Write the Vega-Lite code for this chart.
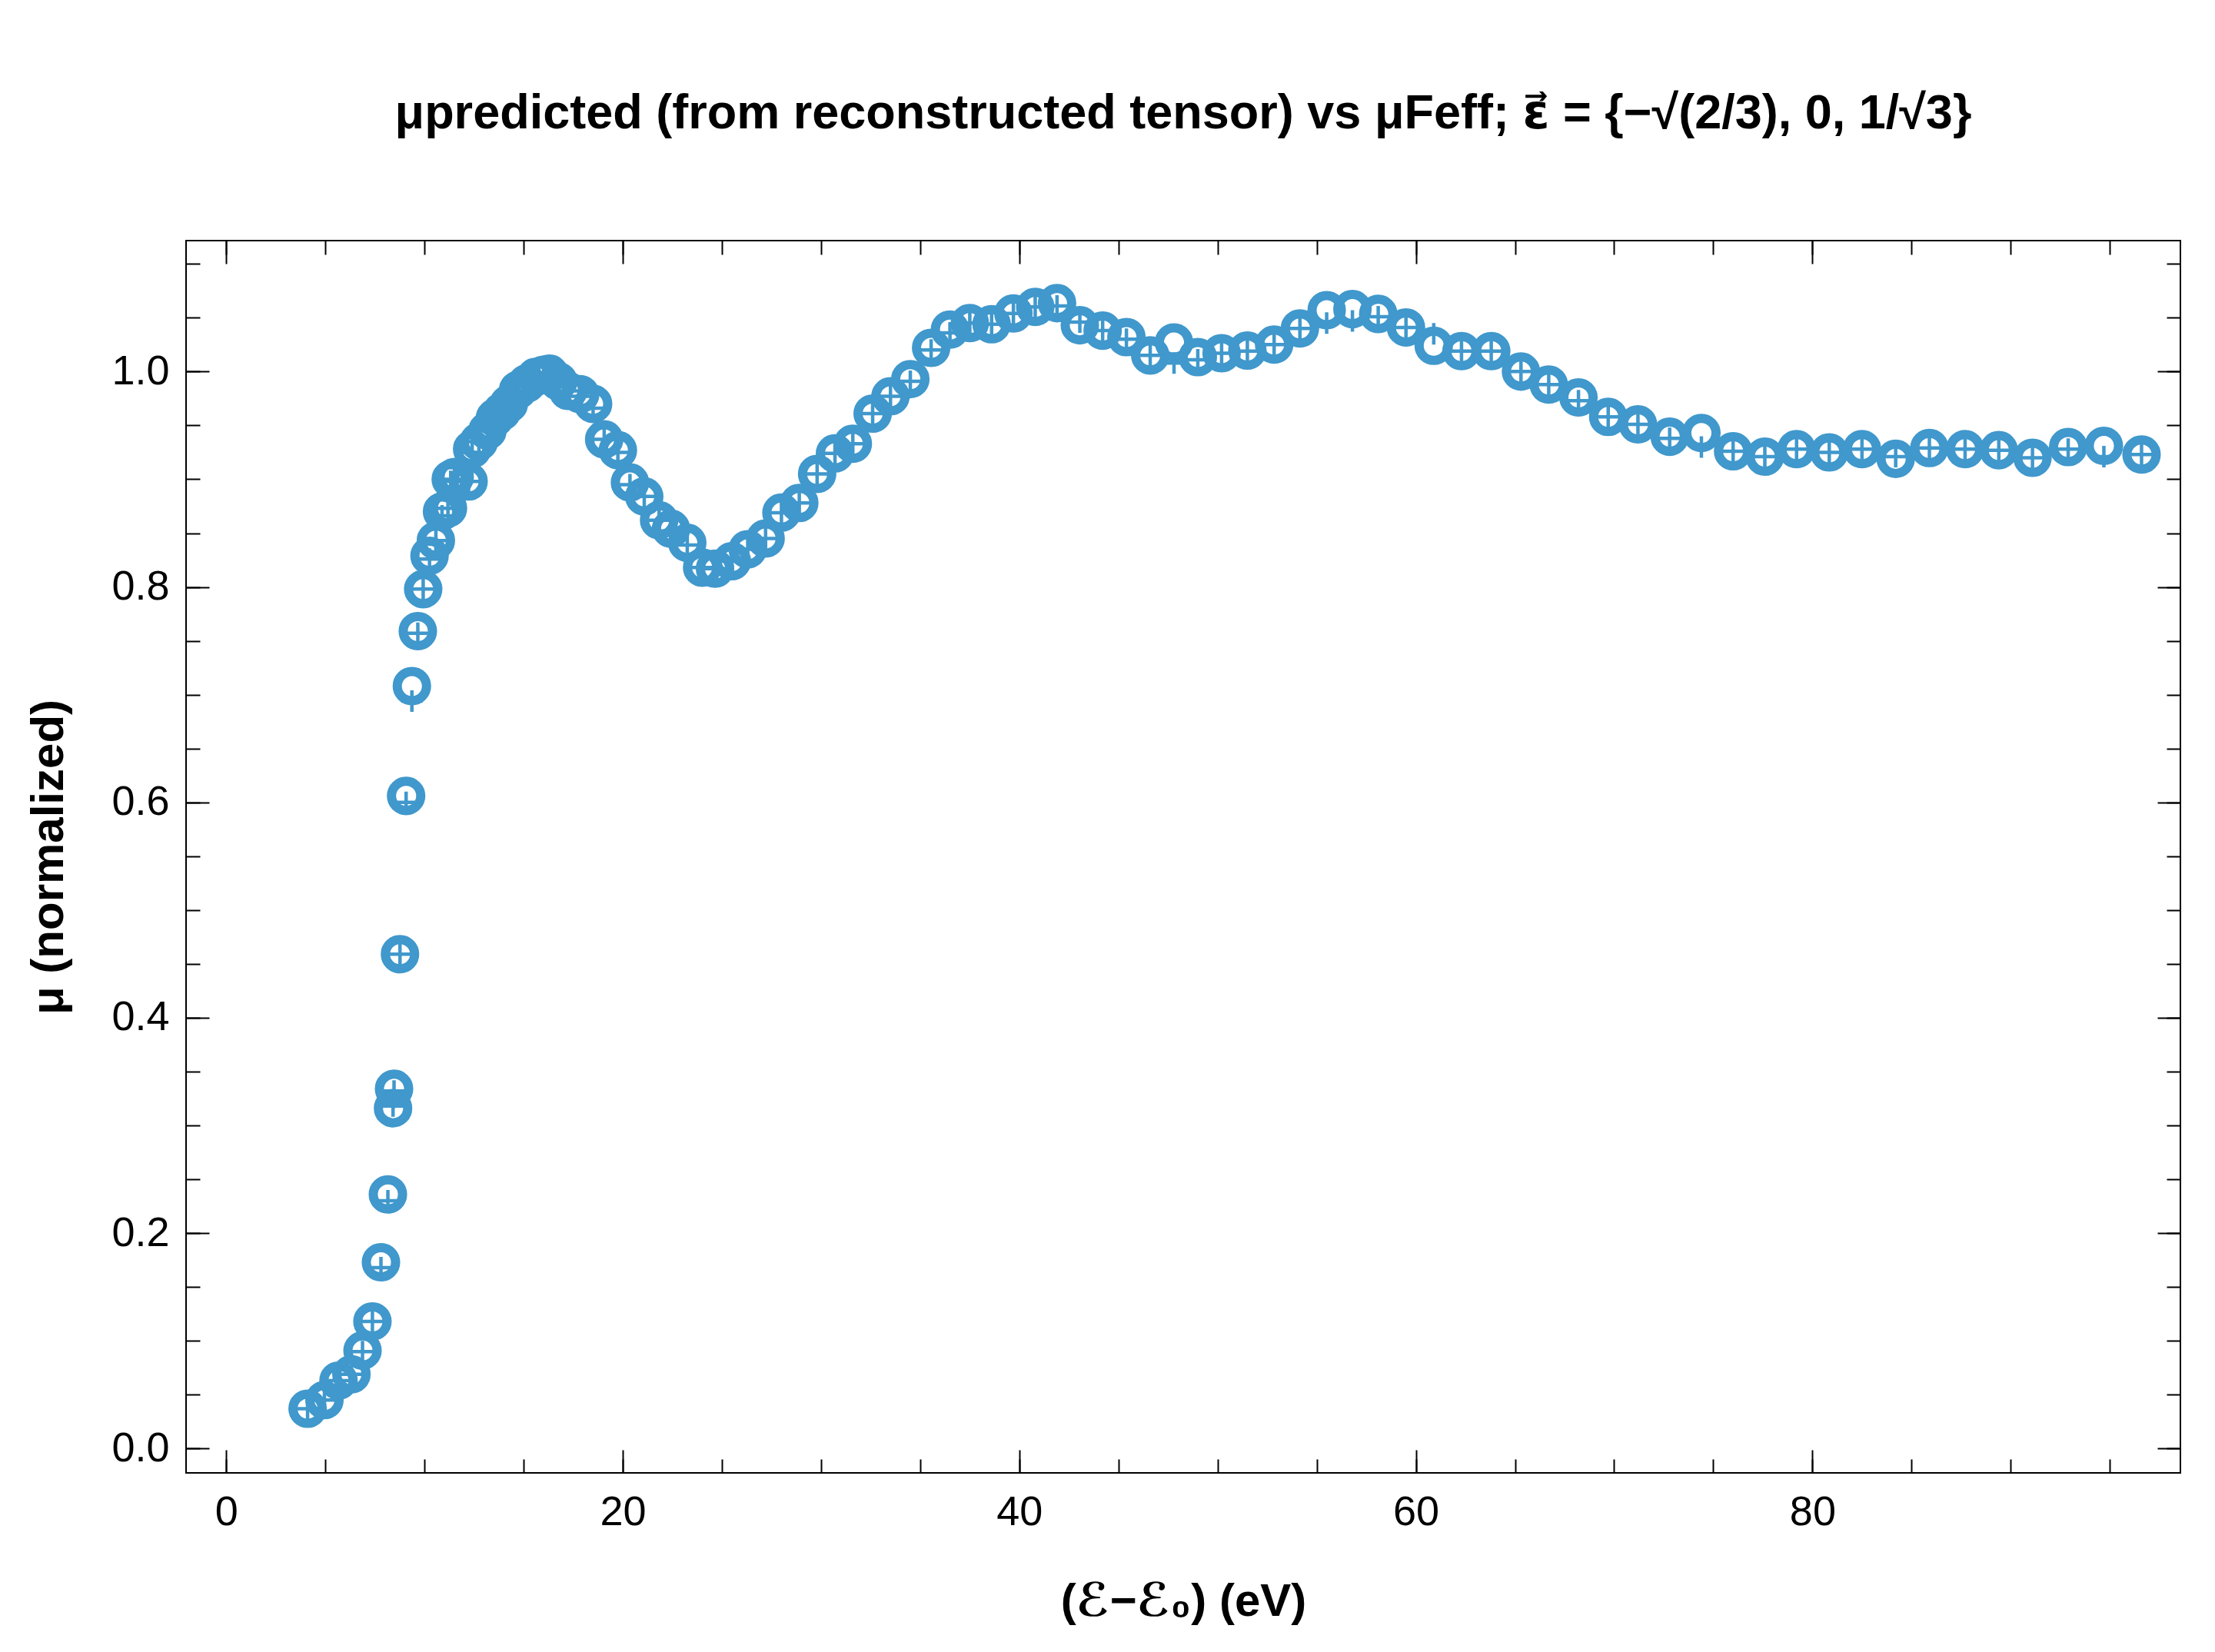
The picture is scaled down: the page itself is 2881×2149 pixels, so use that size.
{
  "$schema": "https://vega.github.io/schema/vega-lite/v6.json",
  "autosize": {"type": "none"},
  "padding": {"left": 242, "top": 313, "right": 45, "bottom": 233},
  "width": 2594,
  "height": 1603,
  "background": "white",
  "title": {
    "text": "μpredicted (from reconstructed tensor) vs μFeff;   ε⃗ = {−√(2/3), 0, 1/√3}",
    "font": "Liberation Sans, DejaVu Sans",
    "fontSize": 63,
    "fontWeight": "bold",
    "color": "black",
    "anchor": "middle",
    "offset": 132
  },
  "config": {
    "view": {"stroke": "black", "strokeWidth": 2},
    "axis": {
      "grid": false,
      "domain": false,
      "tickColor": "black",
      "tickWidth": 2,
      "labelColor": "black",
      "labelFont": "Liberation Sans",
      "labelFontSize": 54,
      "labelFlush": false,
      "labelOverlap": false,
      "titleColor": "black",
      "titleFont": "Liberation Sans, DejaVu Sans",
      "titleFontSize": 60,
      "titleFontWeight": "bold"
    }
  },
  "data": {
    "values": [
      {"e": 4.10, "feff": 0.037, "pred": 0.037},
      {"e": 4.95, "feff": 0.045, "pred": 0.045},
      {"e": 5.66, "feff": 0.063, "pred": 0.063},
      {"e": 6.31, "feff": 0.069, "pred": 0.069},
      {"e": 6.87, "feff": 0.091, "pred": 0.090},
      {"e": 7.37, "feff": 0.118, "pred": 0.118},
      {"e": 7.80, "feff": 0.173, "pred": 0.168},
      {"e": 8.15, "feff": 0.236, "pred": 0.230},
      {"e": 8.41, "feff": 0.316, "pred": 0.318},
      {"e": 8.46, "feff": 0.334, "pred": 0.332},
      {"e": 8.76, "feff": 0.459, "pred": 0.459},
      {"e": 9.07, "feff": 0.606, "pred": 0.600},
      {"e": 9.36, "feff": 0.708, "pred": 0.694},
      {"e": 9.66, "feff": 0.759, "pred": 0.757},
      {"e": 9.93, "feff": 0.798, "pred": 0.798},
      {"e": 10.25, "feff": 0.829, "pred": 0.826},
      {"e": 10.57, "feff": 0.843, "pred": 0.843},
      {"e": 10.88, "feff": 0.870, "pred": 0.866},
      {"e": 11.18, "feff": 0.873, "pred": 0.873},
      {"e": 11.32, "feff": 0.900, "pred": 0.898},
      {"e": 11.52, "feff": 0.902, "pred": 0.900},
      {"e": 12.22, "feff": 0.898, "pred": 0.898},
      {"e": 12.40, "feff": 0.928, "pred": 0.925},
      {"e": 12.74, "feff": 0.935, "pred": 0.935},
      {"e": 13.17, "feff": 0.945, "pred": 0.945},
      {"e": 13.55, "feff": 0.957, "pred": 0.955},
      {"e": 13.90, "feff": 0.963, "pred": 0.963},
      {"e": 14.25, "feff": 0.970, "pred": 0.970},
      {"e": 14.72, "feff": 0.983, "pred": 0.980},
      {"e": 15.16, "feff": 0.989, "pred": 0.989},
      {"e": 15.60, "feff": 0.995, "pred": 0.993},
      {"e": 16.00, "feff": 0.997, "pred": 0.997},
      {"e": 16.30, "feff": 0.998, "pred": 0.996},
      {"e": 16.75, "feff": 0.991, "pred": 0.991},
      {"e": 17.24, "feff": 0.982, "pred": 0.982},
      {"e": 17.85, "feff": 0.979, "pred": 0.977},
      {"e": 18.50, "feff": 0.970, "pred": 0.966},
      {"e": 19.06, "feff": 0.937, "pred": 0.937},
      {"e": 19.75, "feff": 0.927, "pred": 0.925},
      {"e": 20.36, "feff": 0.897, "pred": 0.895},
      {"e": 21.08, "feff": 0.884, "pred": 0.884},
      {"e": 21.83, "feff": 0.862, "pred": 0.862},
      {"e": 22.43, "feff": 0.854, "pred": 0.852},
      {"e": 23.25, "feff": 0.841, "pred": 0.839},
      {"e": 24.00, "feff": 0.818, "pred": 0.818},
      {"e": 24.65, "feff": 0.817, "pred": 0.817},
      {"e": 25.50, "feff": 0.824, "pred": 0.824},
      {"e": 26.30, "feff": 0.835, "pred": 0.835},
      {"e": 27.20, "feff": 0.845, "pred": 0.845},
      {"e": 28.00, "feff": 0.869, "pred": 0.869},
      {"e": 28.90, "feff": 0.878, "pred": 0.878},
      {"e": 29.80, "feff": 0.905, "pred": 0.905},
      {"e": 30.70, "feff": 0.924, "pred": 0.924},
      {"e": 31.60, "feff": 0.933, "pred": 0.933},
      {"e": 32.60, "feff": 0.961, "pred": 0.961},
      {"e": 33.50, "feff": 0.977, "pred": 0.977},
      {"e": 34.50, "feff": 0.993, "pred": 0.991},
      {"e": 35.55, "feff": 1.022, "pred": 1.020},
      {"e": 36.50, "feff": 1.039, "pred": 1.036},
      {"e": 37.50, "feff": 1.045, "pred": 1.045},
      {"e": 38.60, "feff": 1.044, "pred": 1.044},
      {"e": 39.70, "feff": 1.054, "pred": 1.054},
      {"e": 40.80, "feff": 1.060, "pred": 1.060},
      {"e": 41.90, "feff": 1.0635, "pred": 1.061},
      {"e": 43.05, "feff": 1.043, "pred": 1.046},
      {"e": 44.20, "feff": 1.038, "pred": 1.038},
      {"e": 45.40, "feff": 1.032, "pred": 1.030},
      {"e": 46.60, "feff": 1.015, "pred": 1.015},
      {"e": 47.80, "feff": 1.027, "pred": 1.008},
      {"e": 49.00, "feff": 1.0135, "pred": 1.011},
      {"e": 50.20, "feff": 1.017, "pred": 1.017},
      {"e": 51.50, "feff": 1.0195, "pred": 1.019},
      {"e": 52.85, "feff": 1.025, "pred": 1.025},
      {"e": 54.15, "feff": 1.040, "pred": 1.040},
      {"e": 55.50, "feff": 1.057, "pred": 1.045},
      {"e": 56.80, "feff": 1.058, "pred": 1.047},
      {"e": 58.10, "feff": 1.0535, "pred": 1.051},
      {"e": 59.50, "feff": 1.041, "pred": 1.041},
      {"e": 60.90, "feff": 1.024, "pred": 1.035},
      {"e": 62.30, "feff": 1.019, "pred": 1.019},
      {"e": 63.80, "feff": 1.019, "pred": 1.019},
      {"e": 65.30, "feff": 1.000, "pred": 1.000},
      {"e": 66.70, "feff": 0.988, "pred": 0.988},
      {"e": 68.20, "feff": 0.976, "pred": 0.973},
      {"e": 69.70, "feff": 0.958, "pred": 0.958},
      {"e": 71.20, "feff": 0.951, "pred": 0.951},
      {"e": 72.80, "feff": 0.9395, "pred": 0.938},
      {"e": 74.40, "feff": 0.943, "pred": 0.930},
      {"e": 76.00, "feff": 0.926, "pred": 0.926},
      {"e": 77.60, "feff": 0.921, "pred": 0.921},
      {"e": 79.20, "feff": 0.928, "pred": 0.928},
      {"e": 80.85, "feff": 0.925, "pred": 0.925},
      {"e": 82.50, "feff": 0.928, "pred": 0.928},
      {"e": 84.20, "feff": 0.919, "pred": 0.921},
      {"e": 85.90, "feff": 0.929, "pred": 0.929},
      {"e": 87.70, "feff": 0.928, "pred": 0.928},
      {"e": 89.40, "feff": 0.927, "pred": 0.927},
      {"e": 91.10, "feff": 0.920, "pred": 0.920},
      {"e": 92.90, "feff": 0.930, "pred": 0.928},
      {"e": 94.70, "feff": 0.931, "pred": 0.921},
      {"e": 96.60, "feff": 0.923, "pred": 0.923}
    ]
  },
  "resolve": {"axis": {"x": "independent", "y": "independent"}},
  "layer": [
    {
      "mark": {"type": "point", "shape": "circle", "filled": false, "stroke": "#4098cc", "strokeWidth": 12, "size": 1450, "opacity": 1},
      "encoding": {
        "x": {"field": "e", "type": "quantitative",
              "scale": {"domain": [-2.03, 98.56], "nice": false, "zero": false},
              "axis": {"orient": "bottom", "values": [0, 20, 40, 60, 80], "format": "d", "ticks": false, "labelPadding": 24,
                       "title": "(ℰ−ℰ₀) (eV)", "titlePadding": 60}},
        "y": {"field": "feff", "type": "quantitative",
              "scale": {"domain": [-0.0226, 1.1216], "nice": false, "zero": false},
              "axis": {"orient": "left", "values": [0, 0.2, 0.4, 0.6, 0.8, 1.0], "format": ".1f", "ticks": false, "labelPadding": 22,
                       "title": "μ (normalized)", "titlePadding": 50}}
      }
    },
    {
      "mark": {"type": "point", "shape": "M-1,0H1M0,-1V1", "filled": false, "stroke": "#4098cc", "strokeWidth": 4.5, "size": 784, "opacity": 1},
      "encoding": {
        "x": {"field": "e", "type": "quantitative",
              "axis": {"orient": "bottom", "values": [0, 20, 40, 60, 80], "labels": false, "tickSize": -30, "title": null}},
        "y": {"field": "pred", "type": "quantitative",
              "axis": {"orient": "left", "values": [0, 0.2, 0.4, 0.6, 0.8, 1.0], "labels": false, "tickSize": -30, "title": null}}
      }
    },
    {
      "mark": {"type": "point", "opacity": 0},
      "encoding": {
        "x": {"field": "e", "type": "quantitative",
              "axis": {"orient": "bottom", "values": [0, 5, 10, 15, 20, 25, 30, 35, 40, 45, 50, 55, 60, 65, 70, 75, 80, 85, 90, 95], "labels": false, "tickSize": -18, "title": null}},
        "y": {"field": "feff", "type": "quantitative",
              "axis": {"orient": "left", "values": [0, 0.05, 0.1, 0.15, 0.2, 0.25, 0.3, 0.35, 0.4, 0.45, 0.5, 0.55, 0.6, 0.65, 0.7, 0.75, 0.8, 0.85, 0.9, 0.95, 1.0, 1.05, 1.1], "labels": false, "tickSize": -18, "title": null}}
      }
    },
    {
      "mark": {"type": "point", "opacity": 0},
      "encoding": {
        "x": {"field": "e", "type": "quantitative",
              "axis": {"orient": "top", "values": [0, 20, 40, 60, 80], "labels": false, "tickSize": -30, "title": null}},
        "y": {"field": "feff", "type": "quantitative",
              "axis": {"orient": "right", "values": [0, 0.2, 0.4, 0.6, 0.8, 1.0], "labels": false, "tickSize": -30, "title": null}}
      }
    },
    {
      "mark": {"type": "point", "opacity": 0},
      "encoding": {
        "x": {"field": "e", "type": "quantitative",
              "axis": {"orient": "top", "values": [0, 5, 10, 15, 20, 25, 30, 35, 40, 45, 50, 55, 60, 65, 70, 75, 80, 85, 90, 95], "labels": false, "tickSize": -18, "title": null}},
        "y": {"field": "feff", "type": "quantitative",
              "axis": {"orient": "right", "values": [0, 0.05, 0.1, 0.15, 0.2, 0.25, 0.3, 0.35, 0.4, 0.45, 0.5, 0.55, 0.6, 0.65, 0.7, 0.75, 0.8, 0.85, 0.9, 0.95, 1.0, 1.05, 1.1], "labels": false, "tickSize": -18, "title": null}}
      }
    }
  ]
}
